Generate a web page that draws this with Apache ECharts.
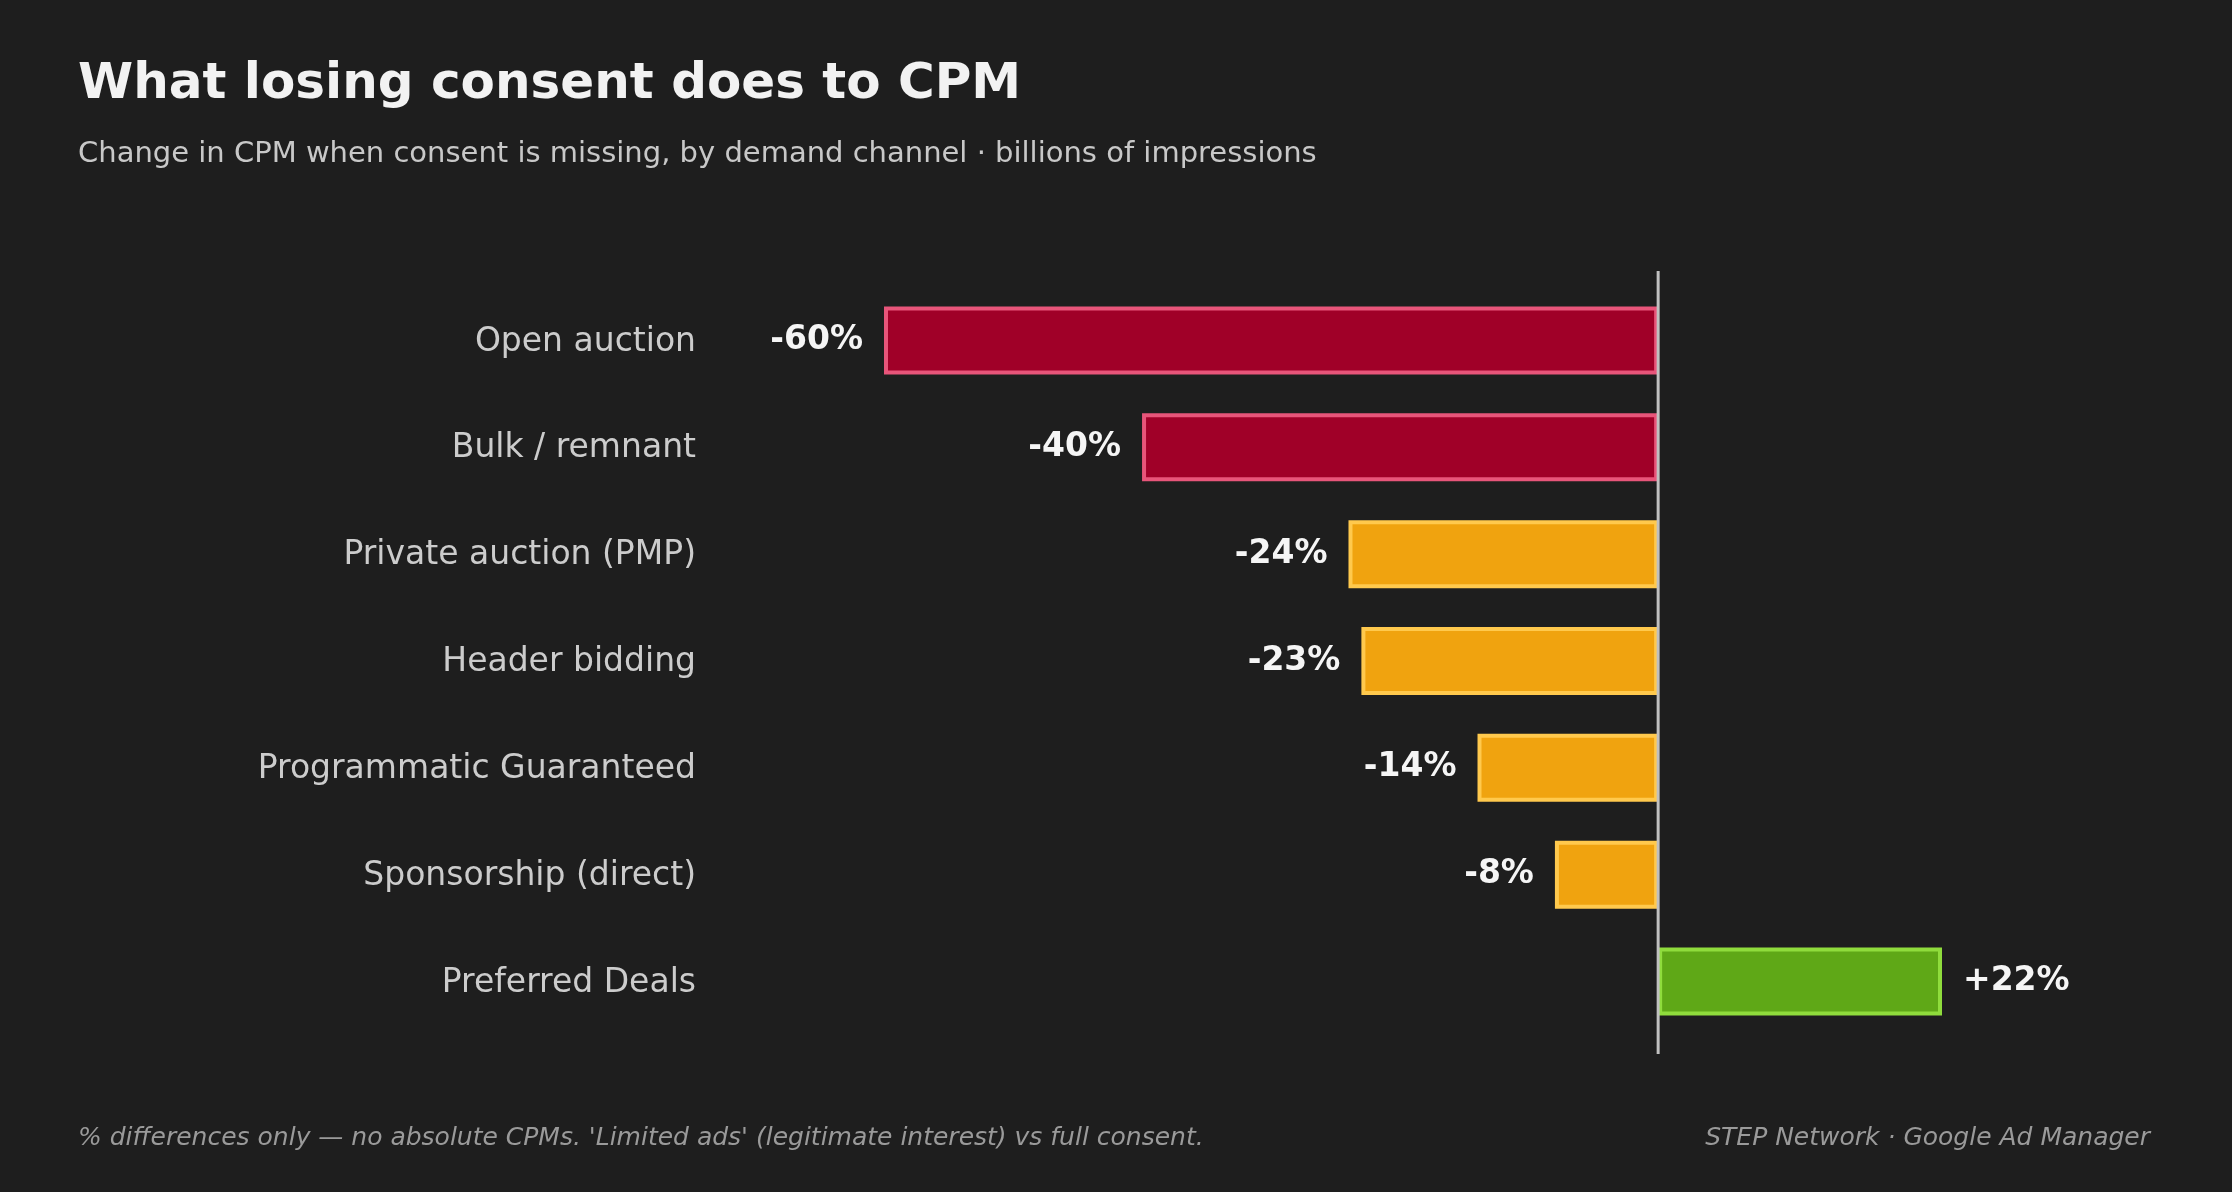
<!DOCTYPE html>
<html><head><meta charset="utf-8">
<script src="https://cdn.jsdelivr.net/npm/echarts@6/dist/echarts.min.js"></script>
<style>html,body{margin:0;background:#1e1e1e}#c{width:2232px;height:1192px}</style>
</head><body><div id="c"></div>
<script>
const categories = ["Open auction","Bulk / remnant","Private auction (PMP)","Header bidding","Programmatic Guaranteed","Sponsorship (direct)","Preferred Deals"];
const values = [-60,-40,-24,-23,-14,-8,22];
const palette = {
  red:{fill:"#a00028",border:"#e8557a"},
  amber:{fill:"#f0a30f",border:"#ffc94d"},
  green:{fill:"#5fa817",border:"#8fdc3c"}
};
function tone(v){return v>=0?palette.green:(v<=-30?palette.red:palette.amber);}
const chart = echarts.init(document.getElementById('c'));
const font = "DejaVu Sans";
const gTop=287, gH=748, gLeft=884, gW=1058;
const zeroX = gLeft + gW*60/82;
chart.setOption({
  backgroundColor:"#1e1e1e",
  animation:false,
  textStyle:{fontFamily:font},
  title:[
    {text:"What losing consent does to CPM",left:73,top:55,textStyle:{color:"#f2f2f2",fontSize:50,fontWeight:"bold",fontFamily:font}},
    {text:"Change in CPM when consent is missing, by demand channel · billions of impressions",left:73,top:135,textStyle:{color:"#c8c8c8",fontSize:29,fontWeight:"normal",fontFamily:font}},
    {text:"% differences only — no absolute CPMs. 'Limited ads' (legitimate interest) vs full consent.",left:73,top:1121,textStyle:{color:"#9a9a9a",fontSize:25,fontStyle:"italic",fontWeight:"normal",fontFamily:font}},
    {text:"STEP Network · Google Ad Manager",right:77,top:1121,textStyle:{color:"#9a9a9a",fontSize:25,fontStyle:"italic",fontWeight:"normal",fontFamily:font}}
  ],
  grid:{left:gLeft,width:gW,top:gTop,height:gH},
  xAxis:{type:"value",min:-60,max:22,show:false},
  yAxis:{type:"category",data:categories,inverse:true,
    axisLine:{show:false},axisTick:{show:false},axisLabel:{show:false}},
  graphic: categories.map((c,i)=>({type:"text",right:2232-696,top:gTop+gH/7*(i+0.5)-15,
    style:{text:c,fill:"#cccccc",font:"33px DejaVu Sans",textAlign:"right"}})).concat([
    {type:"line",z:10,shape:{x1:zeroX,y1:271,x2:zeroX,y2:1054},style:{stroke:"#c0c0c0",lineWidth:3}}]),
  series:[{type:"bar",barWidth:68,
    data:values.map(v=>({value:v,itemStyle:{color:tone(v).fill,borderColor:tone(v).border,borderWidth:4},
      label:{show:true,position:v<0?"left":"right",distance:21,
        formatter:(v>0?"+":"")+v+"%",color:"#f5f5f5",fontSize:33,fontWeight:"bold",fontFamily:font}}))
  }]
});
</script></body></html>
